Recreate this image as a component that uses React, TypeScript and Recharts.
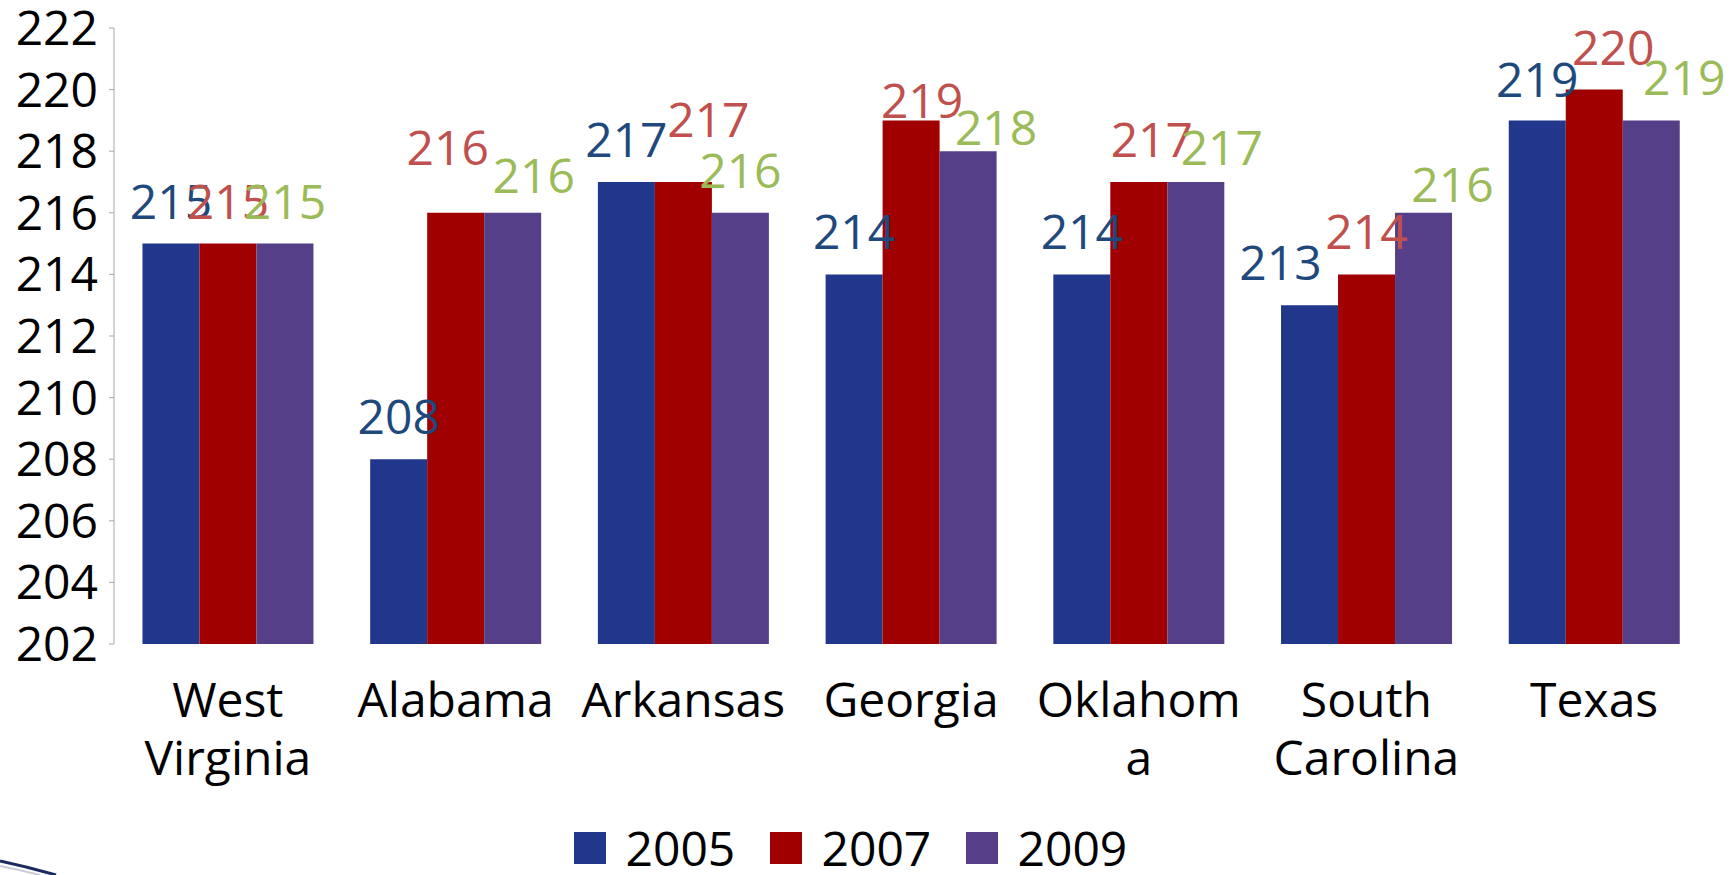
import React from 'react';
import { BarChart, Bar, XAxis, YAxis, Legend, LabelList } from 'recharts';

// States and their scores for each assessment year
const categories = ['West Virginia', 'Alabama', 'Arkansas', 'Georgia', 'Oklahoma', 'South Carolina', 'Texas'];
const tickLines = [['West', 'Virginia'], ['Alabama'], ['Arkansas'], ['Georgia'], ['Oklahom', 'a'], ['South', 'Carolina'], ['Texas']];
const scores2005 = [215, 208, 217, 214, 214, 213, 219];
const scores2007 = [215, 216, 217, 219, 217, 214, 220];
const scores2009 = [215, 216, 216, 218, 217, 216, 219];
const yTicks = [202, 204, 206, 208, 210, 212, 214, 216, 218, 220, 222];
const frameTicks = [0, 1, 2, 3, 4, 5, 6, 7];

const FONT = "'Open Sans', sans-serif";

// Series look: bar fill and value-label colour
const series = [
  { key: 'y2005', name: '2005', fill: '#21378B', label: '#1F497D' },
  { key: 'y2007', name: '2007', fill: '#A00000', label: '#C0504D' },
  { key: 'y2009', name: '2009', fill: '#553F88', label: '#9BBB59' },
];

// Hand-placed value labels: [dx, dy] shift from the default spot above each bar
const labelNudges: number[][][] = [
  [[0, 0], [0, 0], [0, 0], [0, 0], [0, 0], [-29, 0], [0, 2]],
  [[0, 0], [-8, -23], [25, -20], [11, 23], [13, 0], [0, 0], [19, 0]],
  [[0, 0], [21, 5], [0, 0], [28, 19], [26, 8], [29, 14], [33, 0]],
];

const data = categories.map((name, i) => ({
  name,
  y2005: scores2005[i],
  y2007: scores2007[i],
  y2009: scores2009[i],
}));

const makeLabel = (s: number) => (props: any) => {
  const { x, y, width, value, index } = props;
  const [dx, dy] = labelNudges[s][index] || [0, 0];
  return (
    <text
      x={Number(x) + Number(width) / 2 + dx}
      y={Number(y) - 25 + dy}
      textAnchor="middle"
      fill={series[s].label}
      fontSize={48}
      fontFamily={FONT}
    >
      {value}
    </text>
  );
};

const CategoryTick = (props: any) => {
  const { x, y, payload, index } = props;
  const i = payload && payload.index != null ? payload.index : index;
  const lines = tickLines[i] || [String(payload.value)];
  return (
    <text x={x} y={y} textAnchor="middle" fill="#000" fontSize={48} fontFamily={FONT}>
      {lines.map((line, k) => (
        <tspan key={k} x={x} dy={k === 0 ? 73 : 58}>
          {line}
        </tspan>
      ))}
    </text>
  );
};

const LegendContent = () => (
  <div style={{ display: 'flex', alignItems: 'center', height: 48, fontFamily: FONT }}>
    {series.map((s) => (
      <div key={s.key} style={{ display: 'flex', alignItems: 'center', width: 196 }}>
        <div style={{ width: 32, height: 32, background: s.fill, marginRight: 19.5 }} />
        <span style={{ fontSize: 48, lineHeight: '48px', color: '#000' }}>{s.name}</span>
      </div>
    ))}
  </div>
);

export default function App() {
  return (
    <div style={{ position: 'absolute', left: 0, top: 0, width: 1736, height: 875, background: '#fff', overflow: 'hidden' }}>
      <BarChart
        width={1736}
        height={875}
        data={data}
        margin={{ top: 28, right: 28, bottom: 0, left: 0 }}
        barCategoryGap="12.5%"
        barGap={0}
      >
        <XAxis
          xAxisId="frame"
          type="number"
          domain={[0, 7]}
          ticks={frameTicks}
          tick={false}
          tickSize={5}
          height={0}
          stroke="#A6A6A6"
          allowDataOverflow
        />
        <XAxis
          xAxisId="cat"
          dataKey="name"
          height={183}
          axisLine={false}
          tickLine={false}
          tickSize={0}
          tickMargin={0}
          interval={0}
          tick={<CategoryTick />}
        />
        <YAxis
          width={114}
          domain={[202, 222]}
          ticks={yTicks}
          interval={0}
          tickSize={5}
          tickMargin={11}
          stroke="#A6A6A6"
          allowDataOverflow
          tick={{ fill: '#000', fontSize: 48, fontFamily: FONT }}
        />
        <Legend
          verticalAlign="bottom"
          content={<LegendContent />}
          wrapperStyle={{ left: 574, width: 620, height: 48, bottom: 3 }}
        />
        {series.map((s, si) => (
          <Bar key={s.key} xAxisId="cat" dataKey={s.key} name={s.name} fill={s.fill} isAnimationActive={false}>
            <LabelList dataKey={s.key} content={makeLabel(si)} />
          </Bar>
        ))}
      </BarChart>
      <svg width={120} height={40} style={{ position: 'absolute', left: 0, top: 835 }}>
        <path d="M0,26 Q28,32 56,40" stroke="#1C2A5E" strokeWidth={3} fill="none" />
        <path d="M0,31 Q20,35 40,40" stroke="#C8CCD8" strokeWidth={2} fill="none" />
      </svg>
    </div>
  );
}
